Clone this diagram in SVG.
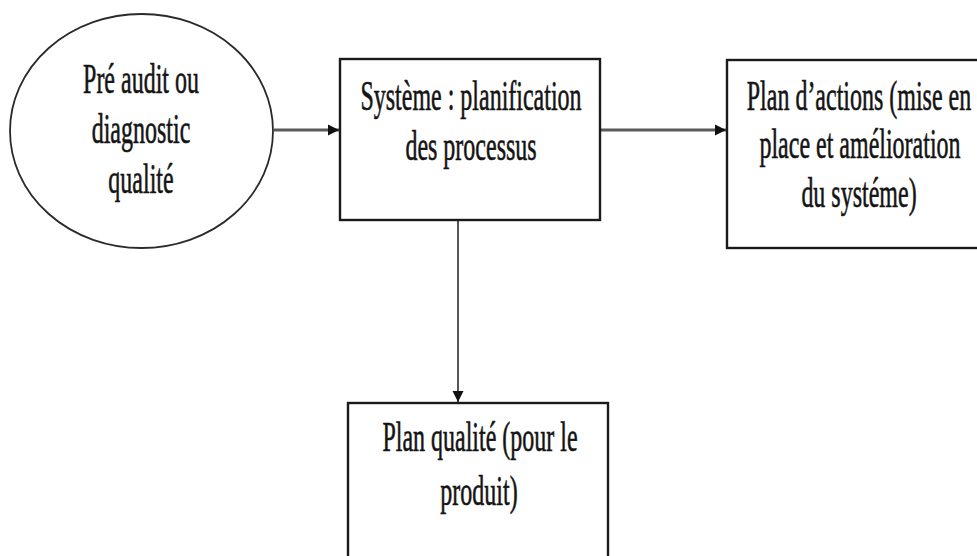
<svg xmlns="http://www.w3.org/2000/svg" width="977" height="556" viewBox="0 0 977 556">
  <style>
    .box { fill: #fff; stroke: #1a1a1a; stroke-width: 2.4; }
    .oval { fill: #fff; stroke: #2a2a2a; stroke-width: 1.8; }
    .lbl { font-family: "Liberation Serif", "Times New Roman", serif; font-size: 24px; fill: #141414; stroke: #141414; stroke-width: 0.35; text-anchor: middle; }
    .edge { stroke: #5a5a5a; stroke-width: 3.2; fill: none; }
    .edge-thin { stroke: #444; stroke-width: 1.8; fill: none; }
  </style>
  <defs>
    <marker id="arrow" viewBox="0 0 10 10" refX="10" refY="5" markerWidth="11" markerHeight="12" markerUnits="userSpaceOnUse" orient="auto">
      <path d="M0,0 L10,5 L0,10 Z" fill="#111"/>
    </marker>
  </defs>
  <rect width="977" height="556" fill="#fff"/>

  <g id="connectors">
    <line class="edge" x1="274" y1="130" x2="339" y2="130" marker-end="url(#arrow)"/>
    <line class="edge" x1="601" y1="130" x2="726" y2="130" marker-end="url(#arrow)"/>
    <line class="edge-thin" x1="458" y1="221" x2="458" y2="402" marker-end="url(#arrow)"/>
  </g>

  <g id="node-preaudit">
    <ellipse class="oval" cx="141.5" cy="131" rx="131.5" ry="117"/>
    <text class="lbl" transform="translate(141,93) scale(1,1.75)">Pré audit ou</text>
    <text class="lbl" transform="translate(141,143) scale(1,1.75)">diagnostic</text>
    <text class="lbl" transform="translate(141,193) scale(1,1.75)">qualité</text>
  </g>

  <g id="node-systeme">
    <rect class="box" x="340" y="59" width="260" height="161"/>
    <text class="lbl" transform="translate(471,110) scale(1,1.75)">Système : planification</text>
    <text class="lbl" transform="translate(471,160) scale(1,1.75)">des processus</text>
  </g>

  <g id="node-plan-actions">
    <rect class="box" x="727" y="60" width="265" height="188"/>
    <text class="lbl" transform="translate(859,110) scale(1,1.75)">Plan d’actions (mise en</text>
    <text class="lbl" transform="translate(860,158) scale(1,1.75)">place et amélioration</text>
    <text class="lbl" transform="translate(859,207) scale(1,1.75)">du systéme)</text>
  </g>

  <g id="node-plan-qualite">
    <rect class="box" x="348" y="403" width="260" height="170"/>
    <text class="lbl" transform="translate(480,451) scale(1,1.75)">Plan qualité (pour le</text>
    <text class="lbl" transform="translate(479,505) scale(1,1.75)">produit)</text>
  </g>
</svg>
